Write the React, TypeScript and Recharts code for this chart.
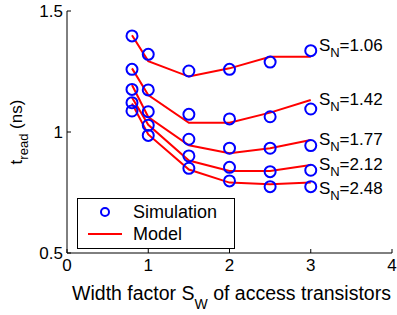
import React from 'react';
import { ComposedChart, Line, Scatter, XAxis, YAxis, ReferenceDot, Legend } from 'recharts';

const widthFactors = [0.8, 1, 1.5, 2, 2.5, 3];
const snValues = ['1.06', '1.42', '1.77', '2.12', '2.48'];

// simulated read times (ns), one row per S_N
const simTimes = [
  [1.397, 1.321, 1.252, 1.259, 1.289, 1.336],
  [1.259, 1.174, 1.073, 1.054, 1.063, 1.095],
  [1.176, 1.084, 0.970, 0.933, 0.933, 0.944],
  [1.121, 1.028, 0.901, 0.854, 0.836, 0.842],
  [1.087, 0.986, 0.850, 0.798, 0.774, 0.774],
];

// model read times (ns)
const modelTimes = [
  [1.400, 1.293, 1.229, 1.263, 1.311, 1.311],
  [1.263, 1.153, 1.038, 1.038, 1.080, 1.132],
  [1.194, 1.062, 0.945, 0.912, 0.933, 0.967],
  [1.143, 1.030, 0.882, 0.839, 0.839, 0.864],
  [1.118, 0.990, 0.845, 0.791, 0.784, 0.791],
];

const labelX = 3.1;
const labelY = [1.36, 1.136, 0.971, 0.868, 0.769];

const xTicks = [0, 1, 2, 3, 4];
const yTicks = [0.5, 1, 1.5];

const FONT = '"Liberation Sans", Arial, sans-serif';
const BLUE = '#0000ff';
const RED = '#ff0000';

const toPoints = (ys: number[]) => widthFactors.map((x, i) => ({ x, y: ys[i] }));

const BottomTick = (p: any) => (
  <g>
    <line x1={p.x} x2={p.x} y1={p.y} y2={p.y - 4} stroke="#000" />
    <text x={p.x} y={p.y + 18} textAnchor="middle" fontSize={17} fontFamily={FONT} fill="#000">{p.payload.value}</text>
  </g>
);

const LeftTick = (p: any) => (
  <g>
    <line x1={p.x} x2={p.x + 4} y1={p.y} y2={p.y} stroke="#000" />
    <text x={p.x - 4} y={p.y + 6} textAnchor="end" fontSize={17} fontFamily={FONT} fill="#000">{p.payload.value}</text>
  </g>
);

const TopTick = (p: any) => <line x1={p.x} x2={p.x} y1={p.y} y2={p.y + 4} stroke="#000" />;
const RightTick = (p: any) => <line x1={p.x} x2={p.x - 4} y1={p.y} y2={p.y} stroke="#000" />;

const Circle = (p: any) => <circle cx={p.cx} cy={p.cy} r={5.5} fill="none" stroke={BLUE} strokeWidth={2} />;

const SnLabel = (sn: string) => (p: any) => {
  const vb = p.viewBox;
  const x = vb.x + vb.width / 2;
  const y = vb.y + vb.height / 2;
  return (
    <text x={x} y={y + 6} fontSize={17} fontFamily={FONT} fill="#000">
      <tspan>S</tspan>
      <tspan dy={6} fontSize={13}>N</tspan>
      <tspan dy={-6}>={sn}</tspan>
    </text>
  );
};

const YTitle = (p: any) => {
  const vb = p.viewBox;
  const cy = vb.y + vb.height / 2;
  return (
    <text x={22} y={cy} transform={`rotate(-90, 22, ${cy})`} textAnchor="middle" fontSize={17} fontFamily={FONT} fill="#000">
      <tspan>t</tspan>
      <tspan dy={6} fontSize={13}>read</tspan>
      <tspan dy={-6}> (ns)</tspan>
    </text>
  );
};

const XTitle = (p: any) => {
  const vb = p.viewBox;
  const cx = vb.x + vb.width / 2;
  return (
    <text x={cx + 2} y={vb.y + 47} textAnchor="middle" fontSize={19.5} fontFamily={FONT} fill="#000">
      <tspan>Width factor S</tspan>
      <tspan dy={9} fontSize={14}>W</tspan>
      <tspan dy={-9}> of access transistors</tspan>
    </text>
  );
};

const LegendBox = () => (
  <div style={{ border: '1px solid #000', background: '#fff', width: 158, height: 51, boxSizing: 'border-box', fontFamily: FONT, fontSize: 18, color: '#000' }}>
    <div style={{ display: 'flex', alignItems: 'center', height: 22, marginTop: 2 }}>
      <svg width={55} height={22}>
        <circle cx={27} cy={11} r={4} fill="none" stroke={BLUE} strokeWidth={2} />
      </svg>
      <span>Simulation</span>
    </div>
    <div style={{ display: 'flex', alignItems: 'center', height: 22 }}>
      <svg width={55} height={22}>
        <line x1={10} x2={44} y1={11} y2={11} stroke={RED} strokeWidth={2} />
      </svg>
      <span>Model</span>
    </div>
  </div>
);

export default function App() {
  return (
    <div style={{ position: 'absolute', left: 0, top: 0, background: '#fff' }}>
      <ComposedChart width={397} height={315} margin={{ top: 11, right: 5, left: 0, bottom: 0 }}>
        <XAxis xAxisId="b" type="number" dataKey="x" domain={[0, 4]} ticks={xTicks} height={62}
          axisLine={{ stroke: '#000' }} tickLine={false} tickSize={0} tickMargin={0} tick={BottomTick}
          label={<XTitle />} />
        <XAxis xAxisId="t" orientation="top" type="number" dataKey="x" domain={[0, 4]} ticks={[1, 2, 3]} height={0}
          axisLine={{ stroke: '#000' }} tickLine={false} tickSize={0} tickMargin={0} tick={TopTick} />
        <YAxis yAxisId="l" type="number" domain={[0.5, 1.5]} ticks={yTicks} width={67}
          axisLine={{ stroke: '#000' }} tickLine={false} tickSize={0} tickMargin={0} tick={LeftTick}
          label={<YTitle />} />
        <YAxis yAxisId="r" orientation="right" type="number" domain={[0.5, 1.5]} ticks={[1]} width={0}
          axisLine={{ stroke: '#000' }} tickLine={false} tickSize={0} tickMargin={0} tick={RightTick} />
        {modelTimes.map((ys, i) => (
          <Line key={'m' + i} xAxisId="b" yAxisId="l" data={toPoints(ys)} dataKey="y" type="linear"
            stroke={RED} strokeWidth={2} dot={false} activeDot={false} isAnimationActive={false} />
        ))}
        {simTimes.map((ys, i) => (
          <Scatter key={'s' + i} xAxisId="b" yAxisId="l" data={toPoints(ys)} dataKey="y"
            shape={Circle} isAnimationActive={false} />
        ))}
        {snValues.map((sn, i) => (
          <ReferenceDot key={'l' + i} xAxisId="b" yAxisId="l" x={labelX} y={labelY[i]} r={0}
            fill="none" stroke="none" label={SnLabel(sn)} />
        ))}
        <Legend layout="horizontal" verticalAlign="middle" align="center"
          wrapperStyle={{ position: 'absolute', left: 77, top: 198, width: 158, height: 51 }}
          content={<LegendBox />} />
      </ComposedChart>
    </div>
  );
}
